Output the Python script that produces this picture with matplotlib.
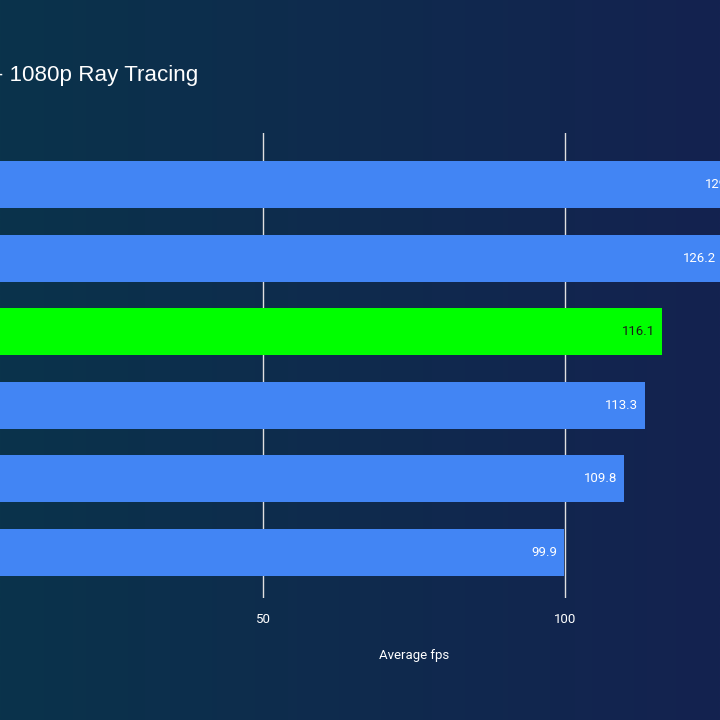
import numpy as np
import matplotlib.pyplot as plt

# values read from the (cropped) chart, top to bottom
values = [129.8, 126.2, 116.1, 113.3, 109.8, 99.9]
highlight = [False, False, True, False, False, False]
ticks = [50, 100]
title = "Cyberpunk 2077 - 1080p Ray Tracing"

blue = "#4285f4"
green = "#00ff00"

W, H = 720, 720
fig = plt.figure(figsize=(W / 100, H / 100), dpi=100)

# background gradient
bg = fig.add_axes([0, 0, 1, 1])
gx = np.linspace(0, 1, 256)
c0 = np.array([0x0a, 0x33, 0x4b]) / 255
c1 = np.array([0x14, 0x22, 0x50]) / 255
grad = c0[None, :] * (1 - gx[:, None]) + c1[None, :] * gx[:, None]
grad = np.tile(grad[None, :, :], (2, 1, 1))
bg.imshow(grad, aspect="auto", extent=[0, 1, 0, 1])
bg.set_axis_off()

# main axes: x=0 lies left of the visible area, as in the crop
px = 302 / 50
left = -39
ax = fig.add_axes([left / W, (H - 598) / H, 150 * px / W, 465 / H])
ax.set_facecolor("none")

y = np.arange(len(values))
colors = [green if h else blue for h in highlight]
ax.barh(y, values, height=0.64, color=colors, zorder=3)
for yi, v, h in zip(y, values, highlight):
    ax.text(v - 1.2, yi, f"{v:.1f}", ha="right", va="center",
            color="#1a1a1a" if h else "white", fontsize=9.5,
            family="Roboto", zorder=4)

ax.set_xlim(0, 150)
ax.set_ylim(5 + 45.5 / 73.6, -51.5 / 73.6)
ax.set_xticks(ticks)
ax.set_yticks([])
ax.grid(axis="x", color="#e0e0e0", linewidth=1, zorder=1)
ax.tick_params(axis="x", length=0, pad=10.5, labelcolor="white", labelsize=9.5)
for lab in ax.get_xticklabels():
    lab.set_family("Roboto")
for s in ax.spines.values():
    s.set_visible(False)
ax.set_xlabel("Average fps", color="white", fontsize=9.5, family="Roboto",
              labelpad=17)

fig.text(198 / W, (H - 76) / H, title, ha="right", va="center",
         color="white", fontsize=16.1, family="Liberation Sans")

fig.savefig("out.png", dpi=100)
